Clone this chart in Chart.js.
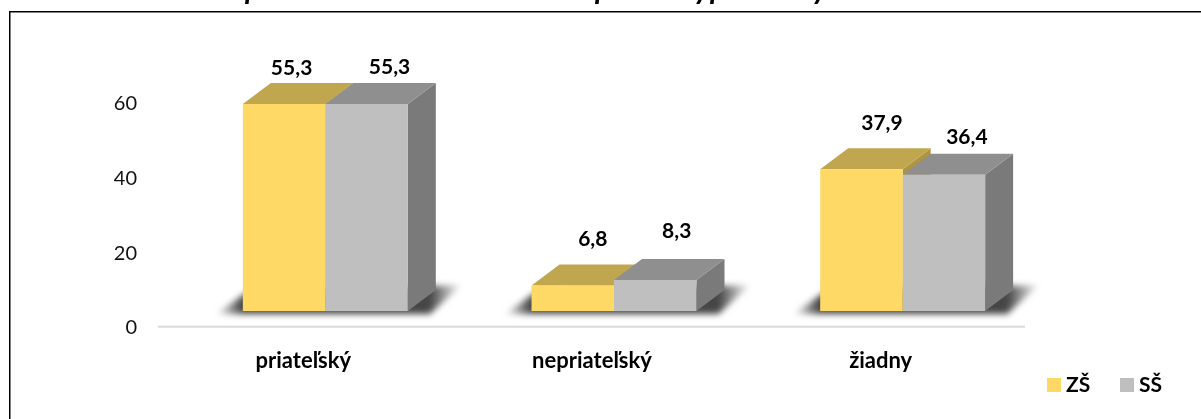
<!DOCTYPE html>
<html lang="sk">

<head>
    <meta charset="UTF-8" />
    <title>Graf</title>
    <script src="https://cdn.jsdelivr.net/npm/chart.js"></script>
    <style>
        body {
            margin: 0;
            background: #fff;
            overflow: hidden;
        }

        canvas {
            display: block;
        }
    </style>
</head>

<body>
    <canvas id="chart" width="1201" height="419"></canvas>

    <script>
        const categories = ["priateľský", "nepriateľský", "žiadny"];
        const seriesNames = ["ZŠ", "SŠ"];
        const valuesZS = [55.3, 6.8, 37.9];
        const valuesSS = [55.3, 8.3, 36.4];
        const axisTicks = [0, 20, 40, 60];

        // the caption above is cut off by the crop, only these descenders show
        const captionLetters = ["p", "p", "y", "p", "y"];
        const captionX = [253, 603, 702, 718, 820];

        // hand placed labels in the original, offsets from the top middle of each bar
        const labelDx = [[7.5, 20, 20.5], [23, 21.5, 23]];
        const labelDy = [[-36, -46.5, -46], [-37, -49, -38]];

        const frontColors = ["#FFD966", "#BFBFBF"];
        const topColors = ["#BFA64F", "#8F8F8F"];
        const sideColors = ["#B0953F", "#7A7A7A"];
        const legendX = [1047, 1120];
        const depthX = 28;
        const depthY = 21;

        const polygon = (ctx, pts, color) => {
            ctx.fillStyle = color;
            ctx.beginPath();
            pts.forEach((p, i) => (i ? ctx.lineTo(p[0], p[1]) : ctx.moveTo(p[0], p[1])));
            ctx.closePath();
            ctx.fill();
        };

        const box3d = {
            id: "box3d",
            beforeDatasetsDraw(chart) {
                const ctx = chart.ctx;
                const first = chart.getDatasetMeta(0).data;
                const second = chart.getDatasetMeta(1).data;

                // floor line
                ctx.save();
                ctx.fillStyle = "#D9D9D9";
                ctx.fillRect(158, 325.7, 867, 2);

                // soft shadow on the floor, fades towards both tips
                ctx.filter = "blur(3px)";
                first.forEach((bar, i) => {
                    const left = bar.x - bar.width / 2;
                    const right = second[i].x + second[i].width / 2;
                    const base = bar.base;
                    const tipL = left - 27;
                    const tipR = right + depthX + 26;
                    const fade = ctx.createLinearGradient(tipL, 0, tipR, 0);
                    const span = tipR - tipL;
                    fade.addColorStop(0, "rgba(70,70,70,0)");
                    fade.addColorStop(26 / span, "rgba(70,70,70,1)");
                    fade.addColorStop(1 - 32 / span, "rgba(70,70,70,1)");
                    fade.addColorStop(1, "rgba(70,70,70,0)");
                    polygon(ctx, [
                        [tipL, base + 3],
                        [left + 6, base - 20],
                        [tipR, base - 26],
                        [right + 22, base + 3]
                    ], fade);
                });
                ctx.restore();

                // sides and tops, the fronts are the chart's own bars
                [first, second].forEach((bars, d) => {
                    bars.forEach((bar) => {
                        const l = bar.x - bar.width / 2;
                        const r = bar.x + bar.width / 2;
                        polygon(ctx, [[r, bar.y], [r + depthX, bar.y - depthY], [r + depthX, bar.base - depthY], [r, bar.base]], sideColors[d]);
                        polygon(ctx, [[l, bar.y], [l + depthX, bar.y - depthY], [r + depthX, bar.y - depthY], [r, bar.y]], topColors[d]);
                    });
                });
            },
            afterDraw(chart) {
                const ctx = chart.ctx;
                ctx.save();
                ctx.fillStyle = "#000";

                // value labels
                ctx.font = "bold 21px Lato";
                ctx.textAlign = "center";
                ctx.textBaseline = "middle";
                chart.data.datasets.forEach((ds, d) => {
                    chart.getDatasetMeta(d).data.forEach((bar, i) => {
                        const text = String(ds.data[i]).replace(".", ",");
                        ctx.fillText(text, bar.x + labelDx[d][i], bar.y + labelDy[d][i]);
                    });
                });

                // legend
                ctx.textAlign = "left";
                chart.data.datasets.forEach((ds, d) => {
                    ctx.fillStyle = frontColors[d];
                    ctx.fillRect(legendX[d], 378, 14, 14);
                    ctx.fillStyle = "#000";
                    ctx.fillText(ds.label, legendX[d] + 19, 385);
                });

                // frame, only the top and left edges are in the picture
                ctx.fillRect(9, 11, 1192, 1.5);
                ctx.fillRect(9, 11, 1.5, 408);

                // what is left of the caption
                ctx.font = "italic bold 30px Lato";
                ctx.textBaseline = "alphabetic";
                ctx.textAlign = "center";
                captionLetters.forEach((letter, i) => ctx.fillText(letter, captionX[i], -1));
                ctx.restore();
            }
        };

        new Chart(document.getElementById("chart"), {
            type: "bar",
            data: {
                labels: categories,
                datasets: [
                    { label: seriesNames[0], data: valuesZS, backgroundColor: frontColors[0], yAxisID: "yBars" },
                    { label: seriesNames[1], data: valuesSS, backgroundColor: frontColors[1], yAxisID: "yBars" }
                ]
            },
            plugins: [box3d],
            options: {
                responsive: false,
                animation: false,
                events: [],
                layout: { padding: { top: 66, right: 154, bottom: 0, left: 0 } },
                datasets: { bar: { barPercentage: 1, categoryPercentage: 0.5714 } },
                plugins: { legend: { display: false }, tooltip: { enabled: false } },
                scales: {
                    x: {
                        grid: { display: false, drawTicks: false },
                        border: { display: false },
                        afterFit: (scale) => { scale.height = 91; },
                        ticks: {
                            color: "#000",
                            font: { family: "Lato", size: 22, weight: "bold" },
                            padding: 20,
                            labelOffset: -22,
                            maxRotation: 0,
                            autoSkip: false
                        }
                    },
                    y: {
                        min: 0,
                        max: 70,
                        afterFit: (scale) => { scale.width = 181; },
                        afterBuildTicks: (scale) => { scale.ticks = axisTicks.map((value) => ({ value })); },
                        grid: { display: false, drawTicks: false },
                        border: { display: false },
                        ticks: {
                            color: "#111",
                            font: { family: "Lato", size: 20 },
                            padding: 44
                        }
                    },
                    // bars stand on a floor above the labelled zero
                    yBars: { display: false, min: -4.54, max: 65.46 }
                }
            }
        });
    </script>

</body>

</html>
